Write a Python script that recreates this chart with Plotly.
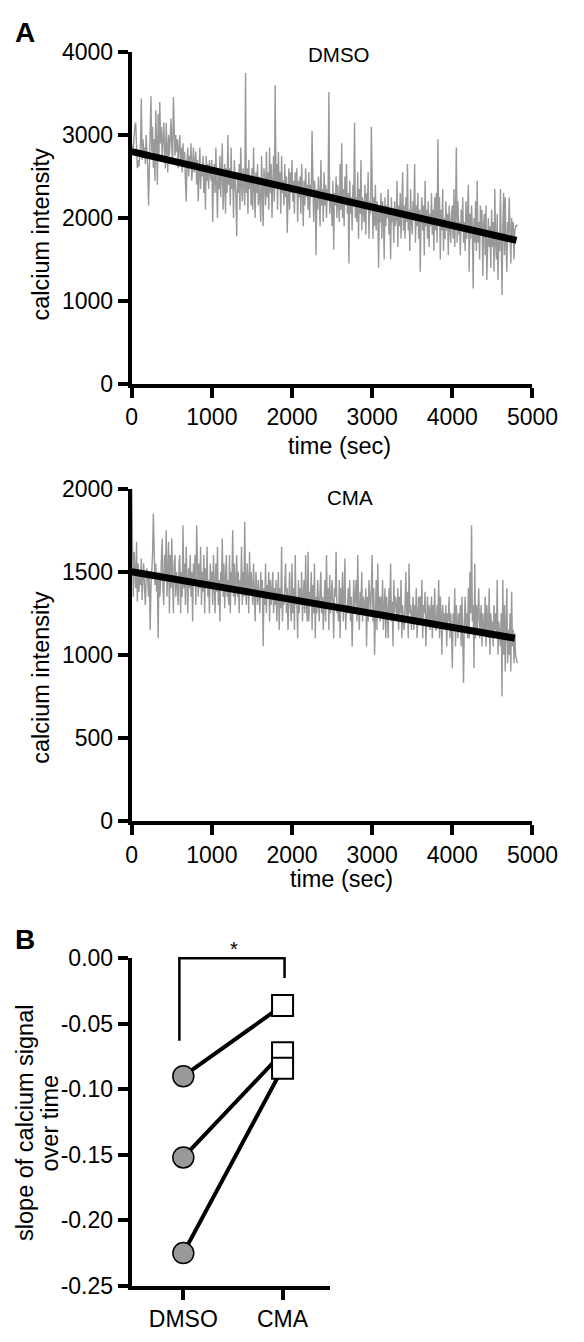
import plotly.graph_objects as go

# ---------------- data ----------------
sample_interval_sec = 10

dmso_intensity = [
    2900, 2780, 2850, 3050, 3120, 3150, 2950, 2600, 2700, 2620,
    2750, 2900, 3440, 2700, 2950, 2800, 2850, 2650, 3000, 2850,
    2600, 2150, 2700, 2950, 3470, 2800, 3100, 2600, 2950, 2450,
    3300, 2900, 2400, 3250, 2750, 3400, 2900, 3100, 2700, 2950,
    3150, 2800, 2600, 3150, 2850, 2550, 3000, 2750, 2950, 3200,
    2850, 2650, 3460, 2900, 2750, 3000, 2800, 2950, 2600, 2850,
    3000, 2700, 2850, 2550, 2900, 2650, 2800, 2450, 2200, 2700,
    2850, 2500, 2750, 2600, 2900, 2450, 2700, 2850, 2550, 2650,
    2800, 2400, 2700, 2200, 2600, 2850, 2350, 2650, 2500, 2750,
    2300, 2600, 2100, 2750, 2450, 2650, 2350, 2700, 2550, 2450,
    2700, 1950, 2500, 2650, 2300, 2850, 2400, 2000, 2600, 2350,
    2750, 2250, 2550, 2900, 2100, 2450, 2650, 2050, 2600, 2300,
    3000, 2400, 2600, 2150, 2850, 2350, 2550, 2000, 2700, 2450,
    2250, 1780, 2550, 2300, 2650, 2100, 2850, 2400, 2200, 2600,
    2450, 2150, 3750, 2300, 2600, 2050, 2700, 2350, 2500, 2150,
    2600, 2100, 2850, 2350, 2000, 2550, 2300, 2650, 2150, 2500,
    2250, 1950, 2750, 2300, 1900, 2600, 2450, 2150, 2800, 2250,
    2550, 2100, 2850, 2300, 2650, 2000, 2500, 2750, 2200, 3600,
    2400, 2650, 2100, 2800, 2350, 2550, 2050, 2750, 2300, 2450,
    2150, 2650, 2250, 2500, 1820, 2400, 2600, 2100, 2550, 2300,
    2700, 2200, 2450, 2050, 2550, 2300, 2600, 1950, 2450, 2250,
    2500, 2050, 2650, 2300, 1900, 2450, 2150, 2600, 2250, 2400,
    2100, 2550, 2000, 2400, 2250, 3050, 2150, 1950, 2450, 2300,
    1550, 2350, 2100, 2500, 2250, 1900, 2700, 2150, 2350, 1950,
    2550, 2150, 2400, 2000, 2350, 2250, 3520, 2050, 2300, 2200,
    1900, 2450, 1620, 2300, 2150, 2500, 2000, 2400, 2200, 1950,
    2650, 2100, 2900, 2000, 2350, 1900, 2500, 2150, 2650, 2050,
    2300, 1450, 2450, 2050, 2250, 1850, 2400, 2150, 3150, 2000,
    2250, 1950, 2550, 1750, 2350, 2050, 2700, 1850, 2250, 2100,
    1950, 2400, 1800, 2300, 2100, 2550, 1750, 2200, 2050, 3100,
    2150, 1750, 2250, 1900, 2400, 1850, 2200, 2050, 1400, 2150,
    1950, 2300, 1750, 2200, 2050, 1500, 2250, 1900, 2150, 2000,
    2350, 1800, 2100, 1500, 2250, 1950, 2050, 1700, 2200, 1900,
    2000, 2450, 1650, 2150, 1900, 2300, 1750, 2100, 2550, 1850,
    2150, 1750, 2250, 1950, 2650, 1850, 2100, 1600, 2350, 1950,
    1800, 2200, 2050, 2650, 1700, 2150, 1900, 2300, 1750, 2100,
    1350, 2050, 2250, 1850, 2150, 1550, 2450, 1900, 2100, 1750,
    2200, 1650, 2050, 1900, 2300, 1800, 2100, 1600, 2250, 1850,
    2300, 1700, 2950, 1950, 2250, 1500, 2100, 1850, 2350, 1600,
    2000, 1750, 2200, 1850, 2050, 1550, 2150, 1900, 1700, 2050,
    2150, 1750, 2350, 1650, 2050, 2850, 1700, 2200, 1800, 1950,
    1550, 2100, 1850, 2250, 1700, 1950, 1600, 2200, 1750, 2050,
    2400, 1350, 2050, 1750, 2150, 1850, 1150, 2000, 1700, 2200,
    1600, 2450, 1700, 1950, 1500, 2150, 1800, 2100, 1300, 1900,
    2050, 1550, 2150, 1250, 1750, 2000, 1650, 1900, 1400, 2100,
    1650, 1950, 1350, 2350, 1700, 1500, 2050, 1250, 1800, 1600,
    2350, 1450, 1070, 1900, 2300, 1550, 2250, 1650, 1350, 1950,
    1800, 2250, 1550, 1450, 2000, 1700, 1950, 1500, 1850, 1900,
    1900, 1920,
]

cma_intensity = [
    2000, 1600, 1350, 1620, 1500, 1400, 1680, 1320, 1550, 1380,
    1500, 1420, 1580, 1330, 1480, 1550, 1400, 1300, 1450, 1520,
    1450, 1350, 1500, 1150, 1400, 1480, 1600, 1850, 1500, 1420,
    1550, 1380, 1450, 1100, 1500, 1350, 1430, 1550, 1700, 1400,
    1300, 1600, 1450, 1750, 1350, 1500, 1680, 1250, 1600, 1400,
    1700, 1450, 1250, 1550, 1600, 1350, 1500, 1420, 1300, 1550,
    1600, 1250, 1500, 1350, 1780, 1400, 1550, 1300, 1650, 1450,
    1250, 1520, 1400, 1600, 1350, 1500, 1200, 1550, 1420, 1600,
    1300, 1780, 1450, 1350, 1550, 1400, 1650, 1300, 1500, 1380,
    1600, 1250, 1520, 1400, 1650, 1350, 1450, 1250, 1550, 1400,
    1500, 1300, 1600, 1420, 1250, 1550, 1380, 1650, 1300, 1450,
    1200, 1500, 1400, 1700, 1350, 1550, 1280, 1450, 1600, 1350,
    1450, 1300, 1600, 1250, 1500, 1400, 1750, 1350, 1550, 1300,
    1450, 1600, 1350, 1500, 1250, 1450, 1380, 1650, 1300, 1500,
    1350, 1800, 1400, 1300, 1550, 1450, 1250, 1620, 1380, 1500,
    1400, 1300, 1550, 1350, 1200, 1500, 1400, 1300, 1450, 1350,
    1250, 1500, 1350, 1450, 1050, 1400, 1300, 1550, 1250, 1420,
    1350, 1500, 1200, 1450, 1300, 1380, 1500, 1250, 1400, 1300,
    1450, 1200, 1350, 1500, 1150, 1400, 1280, 1650, 1200, 1350,
    1300, 1450, 1550, 1250, 1400, 1150, 1350, 1500, 1300, 1200,
    1550, 1250, 1400, 1150, 1600, 1300, 1350, 1100, 1450, 1250,
    1400, 1300, 1500, 1200, 1350, 1450, 1250, 1600, 1300, 1200,
    1620, 1200, 1380, 1300, 1500, 1150, 1420, 1250, 1550, 1100,
    1350, 1250, 1450, 1300, 1200, 1400, 1500, 1250, 1350, 1150,
    1350, 1450, 1200, 1600, 1300, 1400, 1150, 1480, 1250, 1350,
    1450, 1300, 1100, 1400, 1350, 1620, 1250, 1300, 1200, 1450,
    1100, 1400, 1300, 1500, 1200, 1350, 1580, 1150, 1300, 1250,
    1400, 1250, 1450, 1200, 1350, 1050, 1300, 1450, 1250, 1350,
    1450, 1200, 1600, 1300, 1150, 1380, 1250, 1500, 1200, 1350,
    1300, 1250, 1400, 1050, 1350, 1200, 1450, 1300, 1250, 1400,
    1600, 1200, 1400, 1000, 1300, 1450, 1150, 1550, 1250, 1350,
    1200, 1350, 1250, 1450, 1150, 1300, 1400, 1100, 1350, 1250,
    1100, 1400, 1250, 1550, 1200, 1320, 1050, 1450, 1250, 1350,
    1300, 1200, 1400, 1150, 1350, 1250, 1450, 1100, 1300, 1200,
    1150, 1300, 1500, 1200, 1380, 1100, 1550, 1250, 1300, 1150,
    1250, 1350, 1150, 1300, 1200, 1400, 1100, 1250, 1350, 1200,
    1350, 1200, 1450, 1100, 1300, 1250, 1380, 1050, 1250, 1350,
    1200, 1300, 1150, 1250, 1350, 1100, 1300, 1200, 1400, 1150,
    1150, 1300, 1200, 1450, 1100, 1350, 1250, 1000, 1300, 1200,
    1250, 1150, 1300, 1050, 1250, 1200, 1350, 1100, 1250, 1150,
    920, 1250, 1150, 1400, 1050, 1300, 1200, 1100, 1250, 1150,
    1300, 1050, 1350, 1150, 830, 1200, 1350, 1150, 1250, 1100,
    1400, 1100, 1500, 1250, 1780, 1200, 1300, 920, 1550, 1100,
    1300, 1150, 1250, 1400, 1100, 1200, 1300, 1050, 1250, 1150,
    1150, 1350, 1050, 1300, 1200, 1100, 1400, 1000, 1250, 1150,
    1200, 1050, 1300, 1150, 1250, 1100, 1450, 1000, 1200, 1100,
    1050, 1250, 750, 1450, 1000, 1300, 900, 1200, 1400, 950,
    1150, 1000, 1250, 900, 1380, 1050, 1150, 950, 1130, 1000,
    970, 950,
]

dmso_fit_time = [0, 4800]
dmso_fit_value = [2800, 1730]
cma_fit_time = [0, 4780]
cma_fit_value = [1500, 1100]

time_ticks = [0, 1000, 2000, 3000, 4000, 5000]
dmso_y_ticks = [0, 1000, 2000, 3000, 4000]
cma_y_ticks = [0, 500, 1000, 1500, 2000]

groups = ["DMSO", "CMA"]
dmso_slopes = [-0.090, -0.152, -0.225]
cma_slopes = [-0.036, -0.072, -0.084]
slope_ticks = [0.0, -0.05, -0.10, -0.15, -0.20, -0.25]
slope_tick_text = ["0.00", "-0.05", "-0.10", "-0.15", "-0.20", "-0.25"]

# significance bracket (data units of panel B)
bracket_x = [-0.04, 1.02]
bracket_top = 0.0
bracket_left_bottom = -0.063
bracket_right_bottom = -0.015

# ---------------- layout helpers ----------------
W, H = 584, 1342
FONT = "Arial, Liberation Sans, sans-serif"
GRAY = "#999999"


def px_x(p):
    return p / W


def px_y(p):
    return 1 - p / H


dmso_time = [i * sample_interval_sec for i in range(len(dmso_intensity))]
cma_time = [i * sample_interval_sec for i in range(len(cma_intensity))]

fig = go.Figure()

# Panel A – DMSO
fig.add_trace(go.Scatter(x=dmso_time, y=dmso_intensity, mode="lines",
                         line=dict(color=GRAY, width=1.4), xaxis="x", yaxis="y",
                         showlegend=False))
fig.add_trace(go.Scatter(x=dmso_fit_time, y=dmso_fit_value, mode="lines",
                         line=dict(color="black", width=7), xaxis="x", yaxis="y",
                         showlegend=False))

# Panel A – CMA
fig.add_trace(go.Scatter(x=cma_time, y=cma_intensity, mode="lines",
                         line=dict(color=GRAY, width=1.4), xaxis="x2", yaxis="y2",
                         showlegend=False))
fig.add_trace(go.Scatter(x=cma_fit_time, y=cma_fit_value, mode="lines",
                         line=dict(color="black", width=7), xaxis="x2", yaxis="y2",
                         showlegend=False))

# Panel B – paired lines
for d, c in zip(dmso_slopes, cma_slopes):
    fig.add_trace(go.Scatter(x=groups, y=[d, c], mode="lines",
                             line=dict(color="black", width=4),
                             xaxis="x3", yaxis="y3", showlegend=False))
fig.add_trace(go.Scatter(x=[groups[0]] * len(dmso_slopes), y=dmso_slopes, mode="markers",
                         marker=dict(symbol="circle", size=21, color=GRAY,
                                     line=dict(color="black", width=1.5)),
                         xaxis="x3", yaxis="y3", showlegend=False, cliponaxis=False))
fig.add_trace(go.Scatter(x=[groups[1]] * len(cma_slopes), y=cma_slopes, mode="markers",
                         marker=dict(symbol="square", size=21, color="white",
                                     line=dict(color="black", width=2)),
                         xaxis="x3", yaxis="y3", showlegend=False, cliponaxis=False))

axis_common = dict(showline=True, linecolor="black", linewidth=4, ticks="outside",
                   ticklen=10, tickwidth=4, tickcolor="black", showgrid=False,
                   zeroline=False, tickfont=dict(family=FONT, size=23, color="black"))

xA_dom = [px_x(133), px_x(557)]
x_range_B = [-0.52, 1.48]
y_range_B = [-0.25, 0.0]

fig.update_layout(
    width=W, height=H,
    margin=dict(l=0, r=0, t=0, b=0),
    paper_bgcolor="white", plot_bgcolor="white",
    xaxis=dict(domain=xA_dom, range=[0, 5000], tickvals=time_ticks, anchor="y", **axis_common),
    yaxis=dict(domain=[px_y(378), px_y(40)], range=[0, 4000], tickvals=dmso_y_ticks,
               anchor="x", **axis_common),
    xaxis2=dict(domain=xA_dom, range=[0, 5000], tickvals=time_ticks, anchor="y2", **axis_common),
    yaxis2=dict(domain=[px_y(824), px_y(485)], range=[0, 2000], tickvals=cma_y_ticks,
                anchor="x2", **axis_common),
    xaxis3=dict(domain=[px_x(133), px_x(343)], type="category", categoryarray=groups,
                range=x_range_B, anchor="y3", **axis_common),
    yaxis3=dict(domain=[px_y(1298), px_y(964)], range=y_range_B, tickvals=slope_ticks,
                ticktext=slope_tick_text, anchor="x3", **axis_common),
)


def bx(v):
    return (v - x_range_B[0]) / (x_range_B[1] - x_range_B[0])


def by(v):
    return (v - y_range_B[0]) / (y_range_B[1] - y_range_B[0])


fig.add_shape(type="path",
              path=(f"M {bx(bracket_x[0])} {by(bracket_left_bottom)} "
                    f"L {bx(bracket_x[0])} {by(bracket_top)} "
                    f"L {bx(bracket_x[1])} {by(bracket_top)} "
                    f"L {bx(bracket_x[1])} {by(bracket_right_bottom)}"),
              xref="x3 domain", yref="y3 domain",
              line=dict(color="black", width=2.5))

ann = []


def text(x, y, s, size, angle=0, bold=False):
    ann.append(dict(x=px_x(x), y=px_y(y), xref="paper", yref="paper",
                    text=f"<b>{s}</b>" if bold else s, showarrow=False,
                    textangle=angle, xanchor="center", yanchor="middle",
                    font=dict(family=FONT, size=size, color="black")))


text(20, 20, "A", 28, bold=True)
text(20, 945, "B", 28, bold=True)
text(352, 42, "DMSO", 20.5)
text(364, 494, "CMA", 20.5)
text(37, 225, "calcium intensity", 23.5, angle=-90)
text(37, 677, "calcium intensity", 23.5, angle=-90)
text(353, 442, "time (sec)", 23.5)
text(355, 883, "time (sec)", 23.5)
text(20, 1132, "slope of calcium signal", 23.5, angle=-90)
text(47, 1132, "over time", 23.5, angle=-90)
text(241, 955, "*", 20)

fig.update_layout(annotations=ann)

fig.write_html("out.html", config={"displayModeBar": False},
               post_script="document.body.style.margin='0';document.body.style.overflow='hidden';")
